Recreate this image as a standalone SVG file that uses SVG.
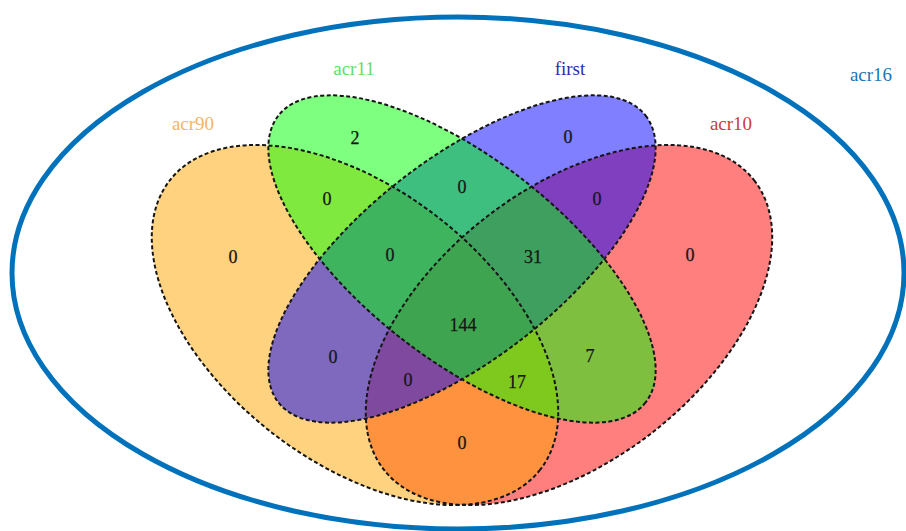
<svg xmlns="http://www.w3.org/2000/svg" width="906" height="531" viewBox="0 0 906 531">
  <style>
    .fill { stroke: none; fill-opacity: 0.5; }
    .outline { fill: none; stroke: #151515; stroke-width: 2; stroke-dasharray: 4 2.5; }
    .cat { font-family: "Liberation Serif", "Times New Roman", serif; font-size: 19px; text-anchor: middle; }
    .num { font-family: "Liberation Serif", "Times New Roman", serif; font-size: 18px; text-anchor: middle; fill: #151515; stroke: #151515; stroke-width: 0.25; }
  </style>
  <rect x="0" y="0" width="906" height="531" fill="#ffffff"/>

  <g id="node-acr16">
    <ellipse cx="458" cy="273" rx="446" ry="256" fill="none" stroke="#0072BC" stroke-width="5"/>
    <text class="cat" x="871" y="81" fill="#1B75BB" font-size="20">acr16</text>
  </g>

  <g id="node-acr10">
    <ellipse class="fill" cx="569" cy="325" rx="235" ry="136" transform="rotate(-38 569 325)" fill="#FF0000"/>
    <text class="cat" x="731" y="130" fill="#C83C3C">acr10</text>
  </g>
  <g id="node-acr90">
    <ellipse class="fill" cx="355" cy="325" rx="235" ry="136" transform="rotate(38 355 325)" fill="#FFA500"/>
    <text class="cat" x="193" y="130" fill="#F2B566">acr90</text>
  </g>
  <g id="node-first">
    <ellipse class="fill" cx="462" cy="259" rx="233" ry="100" transform="rotate(-38 462 259)" fill="#0000FF"/>
    <text class="cat" x="570" y="75" fill="#2C2CA8">first</text>
  </g>
  <g id="node-acr11">
    <ellipse class="fill" cx="462" cy="259" rx="233" ry="100" transform="rotate(38 462 259)" fill="#00FF00"/>
    <text class="cat" x="354" y="75" fill="#66DD66">acr11</text>
  </g>

  <g id="outlines">
    <ellipse class="outline" cx="569" cy="325" rx="235" ry="136" transform="rotate(-38 569 325)"/>
    <ellipse class="outline" cx="355" cy="325" rx="235" ry="136" transform="rotate(38 355 325)"/>
    <ellipse class="outline" cx="462" cy="259" rx="233" ry="100" transform="rotate(-38 462 259)"/>
    <ellipse class="outline" cx="462" cy="259" rx="233" ry="100" transform="rotate(38 462 259)"/>
  </g>

  <g id="region-counts">
    <text class="num" x="233" y="263">0</text>
    <text class="num" x="355" y="144">2</text>
    <text class="num" x="568" y="143">0</text>
    <text class="num" x="690" y="261">0</text>
    <text class="num" x="327" y="205">0</text>
    <text class="num" x="462" y="193">0</text>
    <text class="num" x="597" y="205">0</text>
    <text class="num" x="390" y="261">0</text>
    <text class="num" x="533" y="263">31</text>
    <text class="num" x="463" y="331">144</text>
    <text class="num" x="333" y="363">0</text>
    <text class="num" x="590" y="362">7</text>
    <text class="num" x="408" y="386">0</text>
    <text class="num" x="517" y="388">17</text>
    <text class="num" x="462" y="449">0</text>
  </g>
</svg>
